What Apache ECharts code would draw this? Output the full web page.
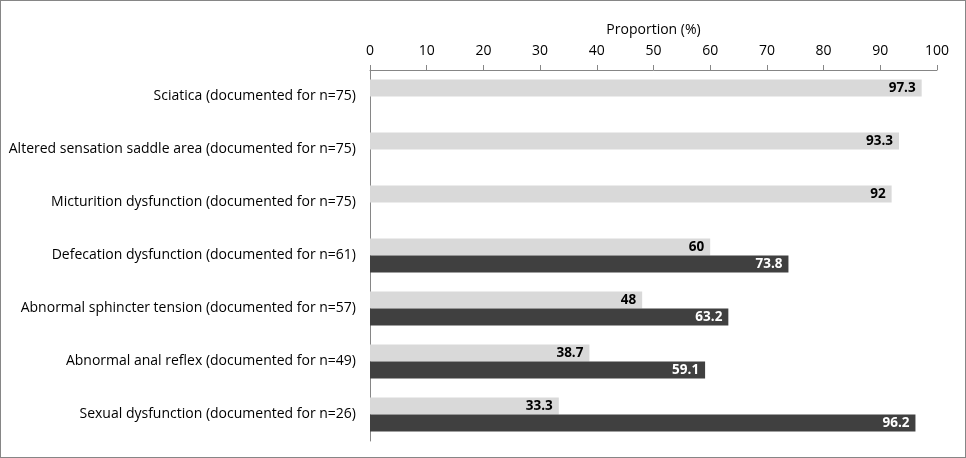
<!DOCTYPE html>
<html><head><meta charset="utf-8">
<script src="https://cdn.jsdelivr.net/npm/echarts@6/dist/echarts.min.js"></script>
<style>
html,body{margin:0;padding:0;background:#fff;}
#c{width:966px;height:458px;box-sizing:border-box;border:1px solid #868686;}
</style></head><body>
<div id="c"></div>
<script>
const categories = [
  "Sciatica (documented for n=75)",
  "Altered sensation saddle area (documented for n=75)",
  "Micturition dysfunction (documented for n=75)",
  "Defecation dysfunction (documented for n=61)",
  "Abnormal sphincter tension (documented for n=57)",
  "Abnormal anal reflex (documented for n=49)",
  "Sexual dysfunction (documented for n=26)"
];
const lightValues = [97.3, 93.3, 92, 60, 48, 38.7, 33.3];
const darkValues = [null, null, null, 73.8, 63.2, 59.1, 96.2];
const xTicks = [0, 10, 20, 30, 40, 50, 60, 70, 80, 90, 100];
const axisTitle = "Proportion (%)";

const FONT = "Open Sans";
const chart = echarts.init(document.getElementById('c'), null, {renderer: 'canvas'});
chart.setOption({
  animation: false,
  grid: {left: 369, top: 69, right: 28, bottom: 16, containLabel: false},
  xAxis: {
    type: 'value', position: 'top', min: xTicks[0], max: xTicks[xTicks.length-1], interval: 10,
    name: axisTitle, nameLocation: 'middle', nameGap: 33,
    nameTextStyle: {fontFamily: FONT, fontSize: 14, color: '#000'},
    axisLine: {show: true, lineStyle: {color: '#868686'}},
    axisTick: {show: true, inside: false, length: 5, lineStyle: {color: '#868686'}},
    axisLabel: {fontFamily: FONT, fontSize: 14, color: '#000', margin: 12},
    splitLine: {show: false}
  },
  yAxis: {
    type: 'category', data: categories, inverse: true,
    axisLine: {show: true, lineStyle: {color: '#868686'}},
    axisTick: {show: false},
    axisLabel: {fontFamily: FONT, fontSize: 14, color: '#000', margin: 14}
  },
  series: [
    {type: 'bar', data: lightValues, barWidth: 17, barGap: '0%',
     itemStyle: {color: '#d9d9d9'},
     label: {show: true, position: 'insideRight', fontFamily: FONT, fontWeight: 'bold', fontSize: 13.5, color: '#000', distance: 6}},
    {type: 'bar', data: darkValues, barWidth: 17, barGap: '0%',
     itemStyle: {color: '#404040'},
     label: {show: true, position: 'insideRight', fontFamily: FONT, fontWeight: 'bold', fontSize: 13.5, color: '#fff', distance: 6}}
  ]
});
</script>
</body></html>
